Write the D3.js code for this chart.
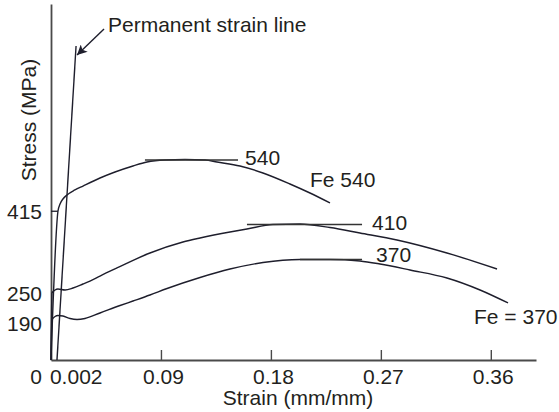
<!DOCTYPE html>
<html>
<head>
<meta charset="utf-8">
<script src="https://cdn.jsdelivr.net/npm/d3@7"></script>
<style>
  html, body { margin: 0; padding: 0; background: #fff; }
  svg { display: block; }
  text { font-family: "Liberation Sans", Arial, Helvetica, sans-serif; fill: #231f20; }
</style>
</head>
<body>
<svg id="chart" width="559" height="412"></svg>
<script>
// ---------- data ----------
const strainTicks = [0.09, 0.18, 0.27, 0.36];
const strainTickLabels = ["0.09", "0.18", "0.27", "0.36"];
const stressTicks = [190, 250, 415];
const stressTickLabels = ["190", "250", "415"];

// Fe 540 curve (strain, stress)
const fe540Strain = [0, 0.0057, 0.0074, 0.0098, 0.0131, 0.0196, 0.0262, 0.0401, 0.0524, 0.0671, 0.0786, 0.0933, 0.1097, 0.1261, 0.1359, 0.1547, 0.1735, 0.1956, 0.2120, 0.2284];
const fe540Stress = [115, 415, 429.6, 439.7, 447.8, 457.9, 465.9, 482.1, 494.2, 506.3, 514.3, 518.4, 519.4, 518.4, 514.3, 506.3, 492.2, 470, 451.8, 431.7];

// Fe 250 curve (peak 410)
const fe250Strain = [0, 0.0008, 0.0033, 0.0057, 0.0115, 0.0180, 0.0262, 0.0319, 0.0401, 0.0540, 0.0810, 0.1080, 0.1220, 0.1465, 0.1604, 0.1817, 0.2038, 0.2284, 0.2529, 0.2832, 0.3241, 0.3651];
const fe250Stress = [115, 250, 256.2, 258.2, 256.2, 260.2, 268.3, 274.3, 284.4, 300.6, 330.8, 353, 361.1, 373.2, 379.2, 388.3, 389.3, 382.2, 371.1, 357, 330.8, 298.5];

// Fe 370 curve (yield 190, peak 370)
const fe370Strain = [0, 0.0008, 0.0033, 0.0057, 0.0098, 0.0156, 0.0213, 0.0278, 0.0401, 0.0565, 0.0671, 0.0810, 0.0950, 0.1220, 0.1465, 0.1735, 0.2038, 0.2284, 0.2529, 0.2693, 0.2939, 0.3241, 0.3512, 0.3741];
const fe370Stress = [115, 195.7, 202.7, 204.7, 203.7, 198.7, 196.7, 198.7, 209.8, 224.9, 234, 246.1, 259.2, 281.4, 298.5, 311.6, 317.7, 317.7, 314.7, 308.6, 296.5, 280.4, 256.2, 230];

// Peak (ultimate) marker lines: [strainStart, strainEnd, stress]
const peakStrainStart = [0.0769, 0.1604, 0.2038];
const peakStrainEnd = [0.1531, 0.2546, 0.2546];
const peakStress = [518.4, 388.3, 317.7];
const peakLabels = ["540", "410", "370"];

// Permanent strain line
const permStrain = [0.0049, 0.0205];
const permStress = [115, 748.3];
// Arrow (tail, tip)
const arrowStrain = [0.0434, 0.0213];
const arrowStress = [782.6, 730.2];

// 0.2% proof marker at 415
const proofStrain = [0, 0.0057];
const proofStress = [415, 415];

// ---------- layout ----------
const svg = d3.select("#chart");
const x = d3.scaleLinear().domain([0, 0.397]).range([51, 536]);
const y = d3.scaleLinear().domain([115, 833]).range([360, 4]);

const ink = "#1e1e2c";
const axisInk = "#4a4a4a";
const fontSize = "21px";

// axes
const xAxis = d3.axisBottom(x)
  .tickValues(strainTicks)
  .tickFormat((d, i) => strainTickLabels[i])
  .tickSizeInner(-10)
  .tickSizeOuter(0)
  .tickPadding(9);
const gx = svg.append("g").attr("transform", `translate(0,${y(115)})`).call(xAxis);
gx.select(".domain").attr("stroke", axisInk).attr("stroke-width", 1.8);
gx.selectAll(".tick line").attr("stroke", axisInk).attr("stroke-width", 1.4);
gx.selectAll(".tick text").attr("font-size", fontSize).attr("font-family", null).attr("fill", "#231f20").attr("dx", 2);

const yAxis = d3.axisLeft(y)
  .tickValues(stressTicks)
  .tickFormat((d, i) => stressTickLabels[i])
  .tickSize(0)
  .tickPadding(9);
const gy = svg.append("g").attr("transform", `translate(${x(0)},0)`).call(yAxis);
gy.select(".domain").attr("stroke", axisInk).attr("stroke-width", 1.8);
gy.selectAll(".tick text").attr("font-size", fontSize).attr("font-family", null).attr("fill", "#231f20").attr("dy", "0.36em");

// extra x labels "0" and "0.002"
svg.append("text").attr("x", x(0) - 9).attr("y", y(115) + 24)
  .attr("text-anchor", "end").attr("font-size", fontSize).text("0");
svg.append("text").attr("x", x(0.002) - 3.5).attr("y", y(115) + 24)
  .attr("text-anchor", "start").attr("font-size", fontSize).text("0.002");

// axis titles
svg.append("text").attr("x", 298).attr("y", 405)
  .attr("text-anchor", "middle").attr("font-size", fontSize).text("Strain (mm/mm)");
svg.append("text").attr("transform", "translate(35.5,120) rotate(-90)")
  .attr("text-anchor", "middle").attr("font-size", fontSize).text("Stress (MPa)");

// curves
const line = d3.line().x(d => x(d[0])).y(d => y(d[1])).curve(d3.curveMonotoneX);
const curves = [
  d3.zip(fe540Strain, fe540Stress),
  d3.zip(fe250Strain, fe250Stress),
  d3.zip(fe370Strain, fe370Stress)
];
svg.append("g").selectAll("path").data(curves).join("path")
  .attr("d", line).attr("fill", "none").attr("stroke", ink).attr("stroke-width", 1.4);

// proof line at 415
svg.append("path").attr("d", d3.line().x(d => x(d[0])).y(d => y(d[1]))(d3.zip(proofStrain, proofStress)))
  .attr("stroke", ink).attr("stroke-width", 1.3).attr("fill", "none");

// peak marker lines + labels
const labelDx = [7, 10, 14];
const labelDy = [5, 5.5, 2.5];
peakStress.forEach((s, i) => {
  svg.append("line")
    .attr("x1", x(peakStrainStart[i])).attr("x2", x(peakStrainEnd[i]))
    .attr("y1", y(s)).attr("y2", y(s))
    .attr("stroke", "#333").attr("stroke-width", 1.5);
  svg.append("text")
    .attr("x", x(peakStrainEnd[i]) + labelDx[i]).attr("y", y(s) + labelDy[i])
    .attr("font-size", fontSize).text(peakLabels[i]);
});

// curve name labels
svg.append("text").attr("x", x(fe540Strain[fe540Strain.length - 1]) - 20)
  .attr("y", y(fe540Stress[fe540Stress.length - 1]) - 16)
  .attr("font-size", fontSize).text("Fe 540");
svg.append("text").attr("x", x(fe370Strain[fe370Strain.length - 1]) - 34)
  .attr("y", y(fe370Stress[fe370Stress.length - 1]) + 21)
  .attr("font-size", fontSize).text("Fe = 370");

// permanent strain line
svg.append("line")
  .attr("x1", x(permStrain[0])).attr("y1", y(permStress[0]))
  .attr("x2", x(permStrain[1])).attr("y2", y(permStress[1]))
  .attr("stroke", ink).attr("stroke-width", 1.4);

// arrow
svg.append("defs").append("marker")
  .attr("id", "arrowhead").attr("viewBox", "0 0 10 10")
  .attr("refX", 10).attr("refY", 5)
  .attr("markerUnits", "userSpaceOnUse")
  .attr("markerWidth", 15).attr("markerHeight", 10)
  .attr("orient", "auto")
  .append("path").attr("d", "M0,0 L10,5 L0,10 L2.5,5 z").attr("fill", ink);
svg.append("line")
  .attr("x1", x(arrowStrain[0])).attr("y1", y(arrowStress[0]))
  .attr("x2", x(arrowStrain[1])).attr("y2", y(arrowStress[1]))
  .attr("stroke", ink).attr("stroke-width", 1.4)
  .attr("marker-end", "url(#arrowhead)");
svg.append("text").attr("x", x(arrowStrain[0]) + 4).attr("y", y(arrowStress[0]) + 3)
  .attr("font-size", fontSize).text("Permanent strain line");
</script>
</body>
</html>
